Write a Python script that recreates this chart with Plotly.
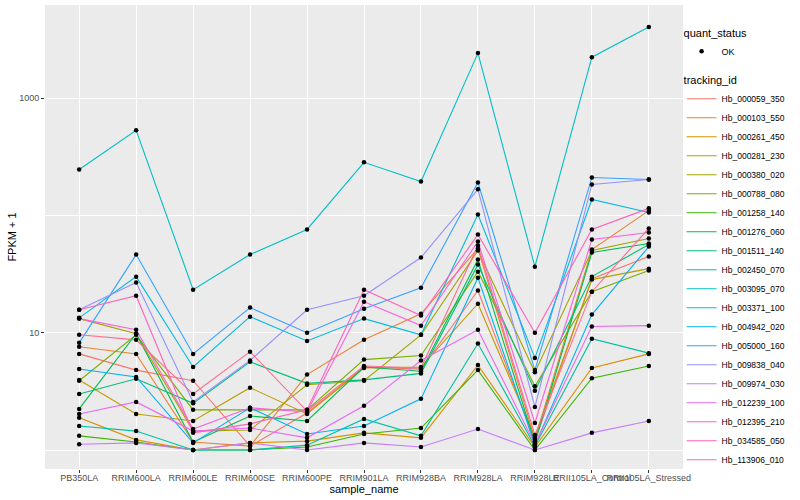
import plotly.graph_objects as go

samples = ["PB350LA", "RRIM600LA", "RRIM600LE", "RRIM600SE", "RRIM600PE", "RRIM901LA",
           "RRIM928BA", "RRIM928LA", "RRIM928LE", "RRII105LA_Control", "RRII105LA_Stressed"]

tracking_ids = ["Hb_000059_350", "Hb_000103_550", "Hb_000261_450", "Hb_000281_230", "Hb_000380_020",
                "Hb_000788_080", "Hb_001258_140", "Hb_001276_060", "Hb_001511_140", "Hb_002450_070",
                "Hb_003095_070", "Hb_003371_100", "Hb_004942_020", "Hb_005000_160", "Hb_009838_040",
                "Hb_009974_030", "Hb_012239_100", "Hb_012395_210", "Hb_034585_050", "Hb_113906_010"]

colors = ["#F8766D", "#EA8331", "#D89000", "#C09B00", "#A3A500", "#7CAE00", "#39B600", "#00BB4E",
          "#00BF7D", "#00C1A3", "#00BFC4", "#00BAE0", "#00B0F6", "#35A2FF", "#9590FF", "#C77CFF",
          "#E76BF3", "#FA62DB", "#FF62BC", "#FF6C91"]

# FPKM + 1 per tracking_id, in sample order
Hb_000059_350 = [6.6, 4.8, 3.9, 1.08, 2.07, 5.1, 4.9, 22.9, 1.19, 28.9, 44.6]
Hb_000103_550 = [7.6, 6.6, 1.17, 1.08, 4.4, 8.7, 14.5, 52.2, 1.24, 51.2, 110]
Hb_000261_450 = [1.88, 1.22, 1.0, 1.15, 1.19, 1.4, 1.27, 5.3, 1.06, 5.0, 6.6]
Hb_000281_230 = [3.96, 2.03, 1.77, 3.4, 2.03, 5.0, 5.1, 17.7, 1.29, 28.4, 35.2]
Hb_000380_020 = [13.2, 9.8, 1.45, 1.48, 3.6, 3.9, 9.6, 50.2, 4.6, 50.2, 63.6]
Hb_000788_080 = [3.9, 9.6, 2.2, 2.2, 2.2, 5.9, 6.4, 33.2, 3.5, 22.4, 33.9]
Hb_001258_140 = [1.32, 1.17, 1.0, 1.0, 1.06, 1.37, 1.54, 4.8, 1.0, 4.1, 5.2]
Hb_001276_060 = [2.24, 9.8, 1.17, 1.95, 1.77, 5.1, 4.7, 42.1, 1.15, 48.3, 57.7]
Hb_001511_140 = [3.0, 4.05, 2.5, 5.65, 3.7, 3.96, 4.5, 38.1, 3.2, 30.1, 56.5]
Hb_002450_070 = [1.6, 1.45, 1.0, 1.0, 1.1, 1.84, 1.32, 8.1, 1.08, 8.9, 6.7]
Hb_003095_070 = [247, 533, 23.3, 46.4, 76, 284, 195, 2425, 36.6, 2240, 4045]
Hb_003371_100 = [13.4, 30.1, 5.1, 13.7, 8.5, 13.2, 9.6, 102, 6.1, 137, 106]
Hb_004942_020 = [4.9, 4.2, 1.15, 2.29, 1.37, 1.6, 2.73, 29.5, 1.1, 14.3, 54.3]
Hb_005000_160 = [8.2, 46.4, 6.6, 16.4, 10.0, 16.0, 24.2, 191, 4.8, 211, 203]
Hb_009838_040 = [15.7, 26.8, 2.57, 5.8, 15.7, 20.7, 43.8, 167, 2.33, 184, 203]
Hb_009974_030 = [1.12, 1.15, 1.0, 1.15, 1.0, 1.15, 1.06, 1.51, 1.0, 1.4, 1.77]
Hb_012239_100 = [2.03, 2.57, 1.45, 1.54, 1.27, 2.38, 5.8, 10.6, 1.12, 11.3, 11.5]
Hb_012395_210 = [13.2, 10.6, 1.51, 2.29, 2.11, 18.4, 11.5, 60, 1.70, 62.4, 71.6]
Hb_034585_050 = [15.7, 20.7, 1.4, 1.67, 2.2, 23.3, 14.0, 68.8, 10.0, 76, 115]
Hb_113906_010 = [9.6, 8.7, 3.0, 6.9, 2.15, 5.2, 5.0, 55.4, 1.34, 22.4, 77.5]

series = [Hb_000059_350, Hb_000103_550, Hb_000261_450, Hb_000281_230, Hb_000380_020,
          Hb_000788_080, Hb_001258_140, Hb_001276_060, Hb_001511_140, Hb_002450_070,
          Hb_003095_070, Hb_003371_100, Hb_004942_020, Hb_005000_160, Hb_009838_040,
          Hb_009974_030, Hb_012239_100, Hb_012395_210, Hb_034585_050, Hb_113906_010]

FONT = "Liberation Sans, Arial, sans-serif"

fig = go.Figure()
for name, vals, col in zip(tracking_ids, series, colors):
    fig.add_trace(go.Scatter(x=samples, y=vals, mode="lines", name=name,
                             line=dict(color=col, width=1.1), legend="legend2"))

all_x = [s for _ in series for s in samples]
all_y = [v for vals in series for v in vals]
fig.add_trace(go.Scatter(x=all_x, y=all_y, mode="markers", name="OK",
                         marker=dict(color="black", size=4.5), legend="legend"))

fig.update_layout(
    width=800, height=500, showlegend=True,
    margin=dict(l=45, r=117, t=5, b=31, autoexpand=False),
    paper_bgcolor="white", plot_bgcolor="#EBEBEB",
    font=dict(family=FONT, size=9, color="#4D4D4D"),
    legend=dict(title=dict(text="quant_status", font=dict(size=11, color="black")),
                xref="container", yref="container",
                x=0.852, y=0.955, xanchor="left", yanchor="top", itemwidth=30,
                font=dict(size=9, color="black"), bgcolor="rgba(0,0,0,0)"),
    legend2=dict(title=dict(text="tracking_id", font=dict(size=11, color="black")),
                 xref="container", yref="container",
                 x=0.852, y=0.86, xanchor="left", yanchor="top", itemwidth=30,
                 maxheight=0.86,
                 font=dict(size=8.5, color="black"), tracegroupgap=0,
                 bgcolor="rgba(0,0,0,0)"),
    xaxis=dict(type="category", categoryorder="array", categoryarray=samples,
               range=[-0.6, 10.6], showgrid=True, gridcolor="white", gridwidth=1.1,
               ticks="outside", ticklen=3, tickcolor="#333333", tickangle=0,
               ticklabelstandoff=-3,
               tickfont=dict(size=9, color="#4D4D4D"), zeroline=False, showline=False,
               automargin=False,
               title=dict(text="sample_name", font=dict(size=11, color="black"), standoff=0)),
    yaxis=dict(type="log", range=[-0.162, 3.795], tickvals=[10, 1000], ticktext=["10", "1000"],
               showgrid=True, gridcolor="white", gridwidth=1.1,
               ticks="outside", ticklen=3, tickcolor="#333333", automargin=False,
               tickfont=dict(size=9, color="#4D4D4D"), zeroline=False, showline=False,
               minor=dict(tickvals=[1, 100], showgrid=True, gridcolor="white", gridwidth=0.6, ticks=""),
               title=dict(text="FPKM + 1", font=dict(size=11, color="black"), standoff=0)),
)

fig.write_html("out.html", config={"displayModeBar": False},
               post_script="document.body.style.margin='0';")
